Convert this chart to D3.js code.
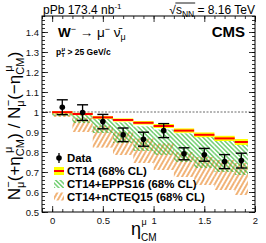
<!DOCTYPE html>
<html lang="en">
<head>
<meta charset="UTF-8">
<title>W- forward/backward ratio</title>
<script src="https://cdnjs.cloudflare.com/ajax/libs/d3/7.8.5/d3.min.js"></script>
<style>
  body { margin: 0; background: #fff; }
  svg { display: block; font-family: 'Liberation Sans', Arial, sans-serif; }
</style>
</head>
<body>
<div id="chart"></div>
<script>
// bins in eta_CM
const binLo = [0.0, 0.2, 0.4, 0.6, 0.8, 1.0, 1.2, 1.4, 1.6, 1.8];
const binHi = [0.2, 0.4, 0.6, 0.8, 1.0, 1.2, 1.4, 1.6, 1.8, 1.93];

// measured ratio
const dataVal = [1.024, 0.997, 0.952, 0.886, 0.864, 0.907, 0.791, 0.786, 0.752, 0.757];
const dataErr = [0.037, 0.039, 0.036, 0.034, 0.035, 0.035, 0.030, 0.032, 0.035, 0.037];

// CT14 (yellow band, red central line)
const ct14Val = [0.999, 0.990, 0.973, 0.960, 0.946, 0.930, 0.907, 0.886, 0.868, 0.850];
const ct14Err = [0.006, 0.006, 0.007, 0.008, 0.009, 0.010, 0.011, 0.012, 0.013, 0.015];

// CT14+EPPS16 (green hatched)
const eppsLo = [0.980, 0.945, 0.895, 0.845, 0.805, 0.785, 0.750, 0.720, 0.700, 0.685];
const eppsHi = [1.003, 0.988, 0.968, 0.948, 0.928, 0.912, 0.893, 0.878, 0.864, 0.858];

// CT14+nCTEQ15 (orange hatched)
const ncteqLo = [0.975, 0.900, 0.822, 0.785, 0.745, 0.710, 0.675, 0.635, 0.610, 0.585];
const ncteqHi = [0.998, 0.972, 0.932, 0.902, 0.868, 0.843, 0.800, 0.775, 0.760, 0.745];

const xTicks = [0, 0.5, 1, 1.5, 2];
const yTicks = [0.5, 0.6, 0.7, 0.8, 0.9, 1.0, 1.1, 1.2, 1.3, 1.4];

const W = 266, H = 243;
const green = "#2bb52b", orange = "#e8801c";

const svg = d3.select("#chart").append("svg").attr("width", W).attr("height", H);

const x = d3.scaleLinear().domain([-0.1, 2.0]).range([42, 255]);
const y = d3.scaleLinear().domain([0.5, 1.48]).range([212, 16]);

// hatch patterns
const defs = svg.append("defs");
function hatch(id, color, angle, gap, sw) {
  defs.append("pattern")
    .attr("id", id)
    .attr("patternUnits", "userSpaceOnUse")
    .attr("width", gap).attr("height", gap)
    .attr("patternTransform", `rotate(${angle})`)
    .append("line")
    .attr("x1", gap / 2).attr("y1", 0).attr("x2", gap / 2).attr("y2", gap)
    .attr("stroke", color).attr("stroke-width", sw);
}
hatch("hGreen", green, -45, 3.2, 1);
hatch("hOrange", orange, 30, 4, 1.2);

const bins = binLo.map((lo, i) => ({
  lo, hi: binHi[i], mid: (lo + binHi[i]) / 2,
  v: dataVal[i], e: dataErr[i],
  ct: ct14Val[i], ctE: ct14Err[i],
  eL: eppsLo[i], eH: eppsHi[i],
  nL: ncteqLo[i], nH: ncteqHi[i]
}));

// reference line at 1
svg.append("line")
  .attr("x1", x(-0.1)).attr("x2", x(2.0))
  .attr("y1", y(1)).attr("y2", y(1))
  .attr("stroke", "#444").attr("stroke-width", 0.8)
  .attr("stroke-dasharray", "2,1.5");

// nCTEQ15 band
svg.append("g").selectAll("rect").data(bins).join("rect")
  .attr("x", d => x(d.lo)).attr("width", d => x(d.hi) - x(d.lo))
  .attr("y", d => y(d.nH)).attr("height", d => y(d.nL) - y(d.nH))
  .attr("fill", "url(#hOrange)");

// EPPS16 band
svg.append("g").selectAll("rect").data(bins).join("rect")
  .attr("x", d => x(d.lo)).attr("width", d => x(d.hi) - x(d.lo))
  .attr("y", d => y(d.eH)).attr("height", d => y(d.eL) - y(d.eH))
  .attr("fill", "url(#hGreen)");

// CT14 band
const ct = svg.append("g");
ct.selectAll("rect").data(bins).join("rect")
  .attr("x", d => x(d.lo)).attr("width", d => x(d.hi) - x(d.lo))
  .attr("y", d => y(d.ct + d.ctE)).attr("height", d => y(d.ct - d.ctE) - y(d.ct + d.ctE))
  .attr("fill", "#ffff00");
ct.selectAll("line").data(bins).join("line")
  .attr("x1", d => x(d.lo)).attr("x2", d => x(d.hi))
  .attr("y1", d => y(d.ct)).attr("y2", d => y(d.ct))
  .attr("stroke", "#ff0000").attr("stroke-width", 2);

// data points
const pts = svg.append("g").selectAll("g").data(bins).join("g");
pts.append("line")
  .attr("x1", d => x(d.mid)).attr("x2", d => x(d.mid))
  .attr("y1", d => y(d.v + d.e)).attr("y2", d => y(d.v - d.e))
  .attr("stroke", "#000").attr("stroke-width", 1.3);
pts.append("line")
  .attr("x1", d => x(d.mid) - 5.5).attr("x2", d => x(d.mid) + 5.5)
  .attr("y1", d => y(d.v + d.e)).attr("y2", d => y(d.v + d.e))
  .attr("stroke", "#000").attr("stroke-width", 1.4);
pts.append("line")
  .attr("x1", d => x(d.mid) - 5.5).attr("x2", d => x(d.mid) + 5.5)
  .attr("y1", d => y(d.v - d.e)).attr("y2", d => y(d.v - d.e))
  .attr("stroke", "#000").attr("stroke-width", 1.4);
pts.append("circle")
  .attr("cx", d => x(d.mid)).attr("cy", d => y(d.v)).attr("r", 2.8)
  .attr("fill", "#000");

// axes (ticks inside, on all four sides)
function styleAxis(g) {
  g.select(".domain").remove();
  g.selectAll(".tick line").attr("stroke", "#000").attr("stroke-width", 0.8);
  g.selectAll(".tick text").attr("fill", "#111").attr("font-size", 9.5);
}
const fmt = d3.format("~g");
const xMinor = d3.range(-0.1, 2.0001, 0.1).map(v => +v.toFixed(2));
const yMinor = d3.range(0.5, 1.4801, 0.02).map(v => +v.toFixed(2));

svg.append("g").attr("transform", `translate(0,${y(0.5)})`)
  .call(d3.axisBottom(x).tickValues(xMinor).tickSize(-3).tickFormat(""))
  .call(styleAxis);
svg.append("g").attr("transform", `translate(0,${y(0.5)})`)
  .call(d3.axisBottom(x).tickValues(xTicks).tickSize(-6).tickPadding(5).tickFormat(fmt))
  .call(styleAxis);
svg.append("g").attr("transform", `translate(0,${y(1.48)})`)
  .call(d3.axisTop(x).tickValues(xMinor).tickSize(-3).tickFormat(""))
  .call(styleAxis);
svg.append("g").attr("transform", `translate(0,${y(1.48)})`)
  .call(d3.axisTop(x).tickValues(xTicks).tickSize(-6).tickFormat(""))
  .call(styleAxis);

svg.append("g").attr("transform", `translate(${x(-0.1)},0)`)
  .call(d3.axisLeft(y).tickValues(yMinor).tickSize(-3).tickFormat(""))
  .call(styleAxis);
svg.append("g").attr("transform", `translate(${x(-0.1)},0)`)
  .call(d3.axisLeft(y).tickValues(yTicks).tickSize(-6).tickPadding(3).tickFormat(fmt))
  .call(styleAxis);
svg.append("g").attr("transform", `translate(${x(2.0)},0)`)
  .call(d3.axisRight(y).tickValues(yMinor).tickSize(-3).tickFormat(""))
  .call(styleAxis);
svg.append("g").attr("transform", `translate(${x(2.0)},0)`)
  .call(d3.axisRight(y).tickValues(yTicks).tickSize(-6).tickFormat(""))
  .call(styleAxis);

// frame
svg.append("rect")
  .attr("x", x(-0.1)).attr("y", y(1.48))
  .attr("width", x(2.0) - x(-0.1)).attr("height", y(0.5) - y(1.48))
  .attr("fill", "none").attr("stroke", "#000").attr("stroke-width", 1);

// rich text helper: segments of {t, s, dx, dy, w}
function rich(sel, segs) {
  segs.forEach(p => {
    const t = sel.append("tspan").text(p.t).attr("font-size", p.s);
    if (p.dx) t.attr("dx", p.dx);
    if (p.dy) t.attr("dy", p.dy);
    if (p.w) t.attr("font-weight", p.w);
  });
  return sel;
}

// header
rich(svg.append("text").attr("x", 43).attr("y", 13.5).attr("fill", "#000"), [
  { t: "pPb 173.4 nb", s: 12 },
  { t: "-1", s: 8, dy: -5 }
]);
const sq = svg.append("text").attr("x", 255).attr("y", 13.5)
  .attr("text-anchor", "end").attr("fill", "#000");
rich(sq, [
  { t: "\u221A", s: 12 },
  { t: "s", s: 12 },
  { t: "NN", s: 8.5, dy: 3 },
  { t: " = 8.16 TeV", s: 12, dy: -3 }
]);
{
  const n = sq.node();
  const x0 = n.getEndPositionOfChar(0).x;
  const x1 = n.getEndPositionOfChar(3).x;
  svg.append("line").attr("x1", x0 - 0.5).attr("x2", x1 + 1)
    .attr("y1", 3).attr("y2", 3).attr("stroke", "#000").attr("stroke-width", 0.9);
}

// process label
rich(svg.append("text").attr("x", 58).attr("y", 37).attr("fill", "#000"), [
  { t: "W", s: 13.5, w: "bold" },
  { t: "\u2212", s: 9, dy: -5 },
  { t: " \u2192 \u03BC", s: 13.5, dy: 5 },
  { t: "\u2212", s: 9, dy: -5 },
  { t: " \u03BD\u0304", s: 13.5, dy: 5 },
  { t: "\u03BC", s: 9, dy: 3 }
]);
svg.append("text").attr("x", 245).attr("y", 37).attr("text-anchor", "end")
  .attr("font-size", 15).attr("font-weight", "bold").attr("fill", "#000").text("CMS");
rich(svg.append("text").attr("x", 56).attr("y", 55).attr("fill", "#000").attr("font-weight", "bold"), [
  { t: "p", s: 8.5 },
  { t: "T", s: 6, dy: 2 },
  { t: "\u03BC", s: 6, dx: -3.5, dy: -6 },
  { t: " > 25 GeV/c", s: 8.5, dy: 4 }
]);

// axis titles
rich(svg.append("text").attr("transform", "translate(20,126) rotate(-90)")
  .attr("text-anchor", "middle").attr("fill", "#000"), [
  { t: "N", s: 17 },
  { t: "\u03BC", s: 11, dy: 4 },
  { t: "\u2212", s: 11, dx: -6, dy: -12 },
  { t: "(+\u03B7", s: 17, dy: 8 },
  { t: "CM", s: 11, dy: 4 },
  { t: "\u03BC", s: 11, dx: -14, dy: -12 },
  { t: ") / N", s: 17, dx: 8, dy: 8 },
  { t: "\u03BC", s: 11, dy: 4 },
  { t: "\u2212", s: 11, dx: -6, dy: -12 },
  { t: "(\u2212\u03B7", s: 17, dy: 8 },
  { t: "CM", s: 11, dy: 4 },
  { t: "\u03BC", s: 11, dx: -14, dy: -12 },
  { t: ")", s: 17, dx: 8, dy: 8 }
]);
rich(svg.append("text").attr("x", 131).attr("y", 235).attr("fill", "#000"), [
  { t: "\u03B7", s: 18 },
  { t: "CM", s: 10, dy: 6 },
  { t: "\u03BC", s: 9, dx: -15, dy: -16 }
]);

// legend
const leg = svg.append("g").attr("font-weight", "bold").attr("font-size", 11.4).attr("fill", "#000");
const rows = [158, 171, 184, 196.5];
leg.append("line").attr("x1", 59).attr("x2", 59).attr("y1", rows[0] - 5).attr("y2", rows[0] + 5)
  .attr("stroke", "#000").attr("stroke-width", 1.3);
leg.append("circle").attr("cx", 59).attr("cy", rows[0]).attr("r", 2.8).attr("fill", "#000");
leg.append("rect").attr("x", 54).attr("y", rows[1] - 4).attr("width", 10).attr("height", 8).attr("fill", "#ffff00");
leg.append("line").attr("x1", 54).attr("x2", 64).attr("y1", rows[1]).attr("y2", rows[1])
  .attr("stroke", "#ff0000").attr("stroke-width", 2);
leg.append("rect").attr("x", 54).attr("y", rows[2] - 4).attr("width", 10).attr("height", 8).attr("fill", "url(#hGreen)");
leg.append("rect").attr("x", 54).attr("y", rows[3] - 4).attr("width", 10).attr("height", 8).attr("fill", "url(#hOrange)");
const labels = ["Data", "CT14 (68% CL)", "CT14+EPPS16 (68% CL)", "CT14+nCTEQ15 (68% CL)"];
labels.forEach((l, i) => {
  leg.append("text").attr("x", 67).attr("y", rows[i] + 4).text(l);
});
</script>
</body>
</html>
